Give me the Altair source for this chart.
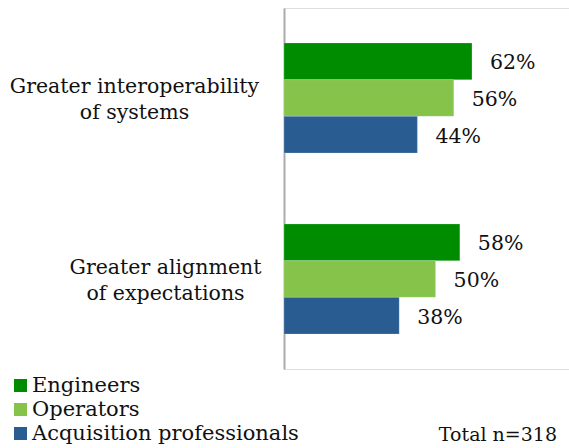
import altair as alt
import pandas as pd

categories = ["Greater interoperability of systems", "Greater alignment of expectations"]
label_lines = {
    "Greater interoperability of systems": ["Greater interoperability", "of systems"],
    "Greater alignment of expectations": ["Greater alignment", "of expectations"],
}
series = ["Engineers", "Operators", "Acquisition professionals"]
values_interop = [62, 56, 44]
values_align = [58, 50, 38]
colors = ["#008C00", "#86C34B", "#295C91"]
total_note = "Total n=318"

rows = []
for s, v in zip(series, values_interop):
    rows.append({"category": categories[0], "series": s, "value": v})
for s, v in zip(series, values_align):
    rows.append({"category": categories[1], "series": s, "value": v})
df = pd.DataFrame(rows)

FONT = "DejaVu Serif, Liberation Serif, Times New Roman, serif"

label_expr = "datum.value == '%s' ? %s : %s" % (
    categories[0],
    str(label_lines[categories[0]]),
    str(label_lines[categories[1]]),
)

y_enc = alt.Y(
    "category:N",
    sort=categories,
    scale=alt.Scale(paddingInner=0.392, paddingOuter=0.193),
    axis=alt.Axis(
        title=None,
        ticks=False,
        domainColor="#ababab",
        domainWidth=2,
        labelExpr=label_expr,
        labelFont=FONT,
        labelFontSize=20.5,
        labelColor="#111111",
        labelAlign="center",
        labelBaseline="middle",
        labelLineHeight=26,
        labelLimit=0,
        labelOffset=-11,
        labelPadding={"condition": {"test": "datum.value == '%s'" % categories[0], "value": 150}, "value": 119},
    ),
)

x_enc = alt.X("value:Q", scale=alt.Scale(domain=[0, 94]), axis=None)
yoff = alt.YOffset("series:N", sort=series, scale=alt.Scale(paddingInner=0, paddingOuter=0))

bars = alt.Chart(df).mark_bar(stroke="#ffffff", strokeWidth=0.5, strokeOpacity=0.4).encode(
    x=x_enc,
    y=y_enc,
    yOffset=yoff,
    color=alt.Color(
        "series:N",
        sort=series,
        scale=alt.Scale(domain=series, range=colors),
        legend=alt.Legend(
            title=None,
            orient="none",
            legendX=-274,
            legendY=367,
            symbolType="square",
            symbolSize=170,
            symbolStrokeWidth=0,
            labelFont=FONT,
            labelFontSize=21,
            labelColor="#111111",
            labelOffset=1,
            labelLimit=0,
            rowPadding=2,
            padding=0,
        ),
    ),
)

texts = alt.Chart(df).transform_calculate(label="datum.value + '%'").mark_text(
    align="left", baseline="middle", dx=18, dy=2, font=FONT, fontSize=20.5, color="#111111"
).encode(
    x=x_enc,
    y=alt.Y("category:N", sort=categories),
    yOffset=yoff,
    text="label:N",
)

note = alt.Chart(pd.DataFrame({"t": [total_note]})).mark_text(
    align="right", baseline="middle", font=FONT, fontSize=19, color="#111111"
).encode(
    x=alt.value(273),
    y=alt.value(427),
    text="t:N",
)

chart = alt.layer(bars, texts, note).properties(
    width=285,
    height=361,
    autosize=alt.AutoSizeParams(type="none"),
    padding={"left": 284, "top": 8, "right": 0, "bottom": 79},
).configure_view(stroke=None).configure(background="#ffffff")

chart.save("out.html", embed_options={"renderer": "svg", "actions": False})
